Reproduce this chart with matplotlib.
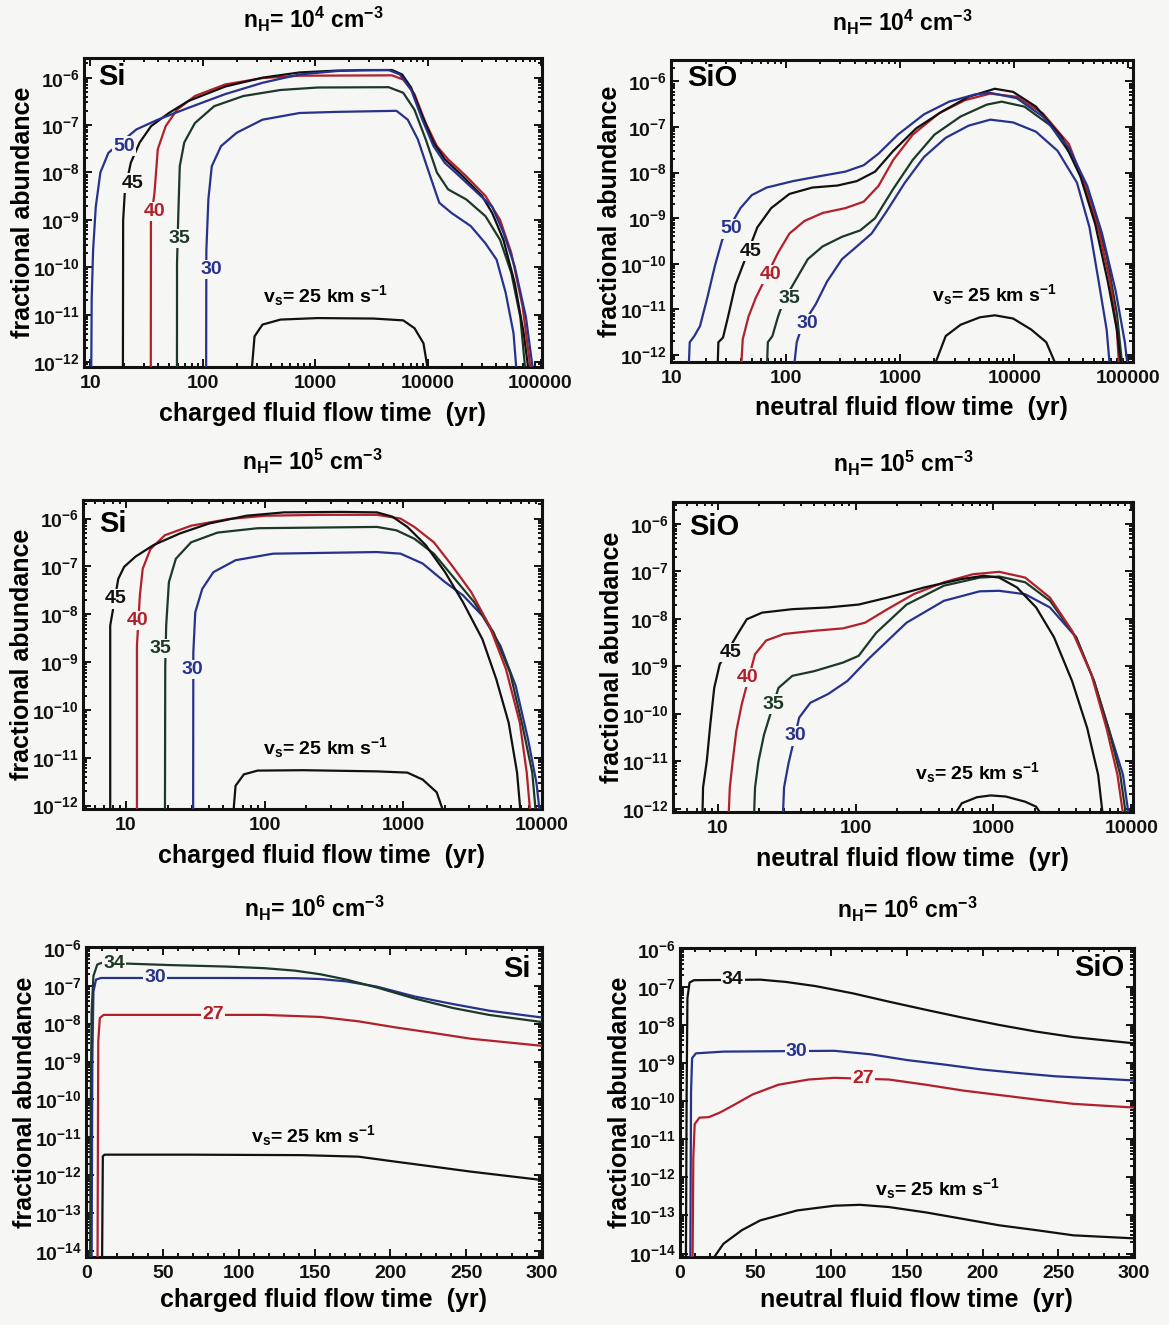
import numpy as np
import matplotlib
matplotlib.use("Agg")
import matplotlib.pyplot as plt
from matplotlib.ticker import LogLocator, MultipleLocator, FixedLocator, FuncFormatter, NullFormatter

plt.rcParams['font.family'] = ['Liberation Sans', 'DejaVu Sans']
plt.rcParams['font.weight'] = 'bold'
plt.rcParams['mathtext.fontset'] = 'custom'
plt.rcParams['mathtext.rm'] = 'Liberation Sans:bold'
plt.rcParams['mathtext.it'] = 'Liberation Sans:bold'
plt.rcParams['mathtext.bf'] = 'Liberation Sans:bold'
plt.rcParams['mathtext.sf'] = 'Liberation Sans:bold'
plt.rcParams['mathtext.default'] = 'rm'

# ---------------- data: Si, nH = 1e4 (charged fluid flow time) ----------------
si4_t50 = [10.2, 10.3, 10.6, 11.2, 12.3, 14.5, 25.7, 39.8, 74, 158, 339, 724, 1550, 2510, 4470, 5620, 7080, 8910, 11200, 14100, 19100, 27500, 37200, 46800, 58900, 74100, 87100]
si4_y50 = [5e-13, 2.1e-11, 2.3e-10, 1.9e-9, 1e-8, 2.6e-8, 8.1e-8, 1.3e-7, 2.3e-7, 4.5e-7, 7.8e-7, 1.17e-6, 1.38e-6, 1.45e-6, 1.45e-6, 1.17e-6, 5.6e-7, 1.3e-7, 3.6e-8, 1.6e-8, 8.3e-9, 3.7e-9, 1.9e-9, 5.4e-10, 1.05e-10, 9e-12, 5e-13]
si4_t45 = [19.5, 19.6, 20.3, 22.9, 27.5, 34.7, 50, 74, 158, 339, 724, 1550, 4790, 5890, 7080, 8910, 11200, 14100, 20400, 30200, 37200, 46800, 58900, 70800, 79400]
si4_y45 = [5e-13, 1e-9, 4e-9, 1.6e-8, 4.3e-8, 9.5e-8, 1.8e-7, 3.2e-7, 6.5e-7, 1e-6, 1.29e-6, 1.41e-6, 1.45e-6, 1.17e-6, 6.2e-7, 1.55e-7, 4.3e-8, 1.9e-8, 8.3e-9, 3.2e-9, 1.4e-9, 3.8e-10, 4.7e-11, 4.1e-12, 5e-13]
si4_t40 = [34.5, 34.6, 37.2, 39.8, 46.8, 58.9, 85, 158, 339, 724, 4790, 6030, 7590, 9550, 12000, 15100, 21900, 32400, 43700, 55000, 69200, 83200]
si4_y40 = [5e-13, 1e-9, 3.7e-9, 3.1e-8, 9.5e-8, 2.1e-7, 4.1e-7, 7.2e-7, 9.8e-7, 1.1e-6, 1.12e-6, 9.1e-7, 4.5e-7, 1.1e-7, 3.6e-8, 1.9e-8, 8.3e-9, 3.2e-9, 1e-9, 2e-10, 1.5e-11, 5e-13]
si4_t35 = [58.9, 59, 60.5, 62.4, 68.4, 85, 126, 229, 490, 1047, 4470, 6030, 7590, 9550, 12000, 15100, 21900, 32400, 43700, 55000, 66100, 74100]
si4_y35 = [5e-13, 1.2e-10, 1.2e-9, 1.35e-8, 4.3e-8, 1.1e-7, 2.5e-7, 4.1e-7, 5.5e-7, 6.2e-7, 6.3e-7, 4.8e-7, 2.1e-7, 5e-8, 1e-8, 4.4e-9, 2.7e-9, 1.2e-9, 3.8e-10, 7.6e-11, 9e-12, 5e-13]
si4_t30 = [107, 107.5, 112, 120, 145, 200, 339, 724, 1550, 5250, 6610, 8130, 10200, 12600, 16200, 24000, 32400, 40700, 49000, 57500, 61700]
si4_y30 = [5e-13, 2.3e-10, 2.7e-9, 1.35e-8, 3.6e-8, 6.9e-8, 1.3e-7, 1.8e-7, 1.9e-7, 2e-7, 1.3e-7, 5e-8, 1e-8, 2.3e-9, 1.4e-9, 7.4e-10, 3.2e-10, 1.45e-10, 2.9e-11, 4.1e-12, 5e-13]
si4_t25 = [269, 288, 339, 490, 1047, 3310, 6030, 7590, 9120, 10200]
si4_y25 = [5e-13, 3.5e-12, 6.2e-12, 7.9e-12, 8.5e-12, 8.3e-12, 7.6e-12, 5.2e-12, 2.5e-12, 5e-13]

# ---------------- data: SiO, nH = 1e4 (neutral fluid flow time) ----------------
sio4_t50 = [14.0, 14.3, 15.7, 17.6, 20.4, 23.8, 27.5, 39.8, 50, 67.6, 115, 195, 331, 479, 646, 955, 1620, 2690, 4570, 6170, 10500, 17800, 30200, 43700, 58900, 77600, 93300, 99300]
sio4_y50 = [5e-13, 1.9e-12, 2.6e-12, 4.3e-12, 1.8e-11, 9.1e-11, 3.3e-10, 1.66e-9, 3.2e-9, 4.7e-9, 6.5e-9, 8.3e-9, 1.05e-8, 1.45e-8, 2.6e-8, 6.8e-8, 1.9e-7, 3.6e-7, 5.2e-7, 5.6e-7, 4.3e-7, 1.7e-7, 3.5e-8, 5.1e-9, 4.6e-10, 2.5e-11, 1.9e-12, 5e-13]
sio4_t45 = [25.1, 25.5, 28, 31, 36, 56, 74, 107, 170, 282, 417, 603, 871, 1380, 2340, 3980, 6760, 9770, 15500, 26300, 38000, 51300, 66100, 79400, 87100]
sio4_y45 = [5e-13, 1.9e-12, 2.4e-12, 6.9e-12, 3.5e-11, 6.3e-10, 1.66e-9, 3.4e-9, 4.7e-9, 5.2e-9, 6.5e-9, 1.05e-8, 3e-8, 9.3e-8, 2.2e-7, 4.6e-7, 6.9e-7, 5.9e-7, 2.8e-7, 5.8e-8, 8.3e-9, 7.4e-10, 4.1e-11, 3.6e-12, 5e-13]
sio4_t40 = [40.3, 41.7, 46.8, 54.3, 85, 107, 145, 209, 331, 479, 646, 871, 1290, 2190, 3720, 6170, 10500, 17800, 30200, 40700, 55000, 69200, 79400, 83200]
sio4_y40 = [5e-13, 2.2e-12, 6.9e-12, 1.8e-11, 1.74e-10, 4.6e-10, 8.7e-10, 1.3e-9, 1.66e-9, 2.3e-9, 5.1e-9, 1.9e-8, 6.8e-8, 2e-7, 3.9e-7, 5.4e-7, 4.6e-7, 2e-7, 4.2e-8, 6e-9, 5.4e-10, 4.1e-11, 3.6e-12, 5e-13]
sio4_t35 = [68, 69.2, 75.9, 85, 95.5, 124, 155, 209, 309, 447, 603, 871, 1290, 2000, 3390, 5750, 7760, 12300, 20900, 32400, 47900, 64600, 79400, 89100]
sio4_y35 = [5e-13, 1.9e-12, 2.6e-12, 6.9e-12, 1.55e-11, 4.8e-11, 1.26e-10, 2.4e-10, 3.9e-10, 5.4e-10, 1e-9, 4.4e-9, 1.9e-8, 6.8e-8, 1.7e-7, 3.1e-7, 3.6e-7, 2.8e-7, 1.07e-7, 2.2e-8, 2.3e-9, 1.48e-10, 8.1e-12, 5e-13]
sio4_t30 = [117, 124, 138, 182, 229, 309, 417, 562, 759, 1100, 1620, 2510, 3980, 6170, 9770, 15500, 24000, 35500, 45700, 55000, 64600, 69200]
sio4_y30 = [5e-13, 1.9e-12, 4.3e-12, 1.3e-11, 4.1e-11, 1.26e-10, 2.4e-10, 4.6e-10, 1.4e-9, 6e-9, 2.2e-8, 5.8e-8, 1.07e-7, 1.45e-7, 1.26e-7, 7.9e-8, 3e-8, 6e-9, 6.3e-10, 4.1e-11, 3.6e-12, 5e-13]
sio4_t25 = [1950, 2510, 3390, 5010, 6760, 9770, 14100, 19100, 24000]
sio4_y25 = [5e-13, 2.6e-12, 4.6e-12, 6.7e-12, 7.4e-12, 6.3e-12, 3.6e-12, 1.9e-12, 5e-13]

# ---------------- data: Si, nH = 1e5 ----------------
si5_t45 = [7.7, 7.7, 8.8, 9.7, 11.7, 15.8, 24.5, 39.8, 74, 138, 355, 646, 832, 1070, 1450, 2000, 2690, 3720, 4680, 5750, 6610, 7080]
si5_y45 = [5e-13, 5.8e-9, 5.5e-8, 9.8e-8, 1.6e-7, 2.8e-7, 4.9e-7, 7.9e-7, 1.15e-6, 1.35e-6, 1.38e-6, 1.35e-6, 1.1e-6, 6.7e-7, 2.8e-7, 7.6e-8, 1.8e-8, 3e-9, 4.4e-10, 5.4e-11, 4.9e-12, 5e-13]
si5_t40 = [12.0, 12.0, 12.6, 13.2, 15, 19.1, 29.5, 55, 102, 257, 646, 955, 1200, 1660, 2240, 3090, 4170, 5500, 6920, 7760, 8320]
si5_y40 = [5e-13, 2.2e-9, 2.5e-8, 8.9e-8, 2.3e-7, 4.5e-7, 7.1e-7, 9.8e-7, 1.15e-6, 1.2e-6, 1.2e-6, 1e-6, 6.7e-7, 3.2e-7, 1.05e-7, 2.9e-8, 5.8e-9, 7.1e-10, 5.4e-11, 4.9e-12, 5e-13]
si5_t35 = [19.1, 19.2, 19.5, 20.4, 22.9, 29.5, 45.7, 89, 646, 891, 1200, 1660, 2240, 3240, 4470, 5890, 7240, 8510, 9120]
si5_y35 = [5e-13, 8.3e-10, 5.8e-9, 4.7e-8, 1.45e-7, 3.2e-7, 5.1e-7, 6.3e-7, 6.7e-7, 5.7e-7, 3.8e-7, 1.85e-7, 6.5e-8, 1.8e-8, 4.2e-9, 6e-10, 4.6e-11, 4.9e-12, 5e-13]
si5_t30 = [30.5, 30.6, 31.6, 35.5, 42.7, 61.7, 115, 646, 955, 1380, 2000, 2690, 3720, 5010, 6460, 7940, 9120, 9770]
si5_y30 = [5e-13, 1.6e-9, 1.1e-8, 3.4e-8, 7.6e-8, 1.35e-7, 1.85e-7, 2e-7, 1.85e-7, 1.15e-7, 4.7e-8, 2.5e-8, 9.3e-9, 2.2e-9, 3.2e-10, 2.4e-11, 3e-12, 5e-13]
si5_t25 = [58.9, 61.7, 70.8, 89, 191, 646, 1070, 1380, 1740, 2040]
si5_y25 = [5e-13, 2.6e-12, 4.5e-12, 5.4e-12, 5.5e-12, 5.2e-12, 4.9e-12, 3.5e-12, 1.9e-12, 5e-13]

# ---------------- data: SiO, nH = 1e5 ----------------
sio5_t45 = [7.7, 7.8, 8.3, 8.8, 9.4, 10.3, 14.1, 16.2, 20.9, 34.7, 63, 105, 170, 316, 589, 851, 1100, 1480, 2040, 2750, 3720, 4790, 5750, 6310]
sio5_y45 = [5e-13, 2.8e-12, 1e-11, 5.9e-11, 3.5e-10, 1.1e-9, 5.1e-9, 9.8e-9, 1.35e-8, 1.6e-8, 1.74e-8, 2e-8, 2.8e-8, 4.6e-8, 6.9e-8, 8.1e-8, 7.4e-8, 4.6e-8, 1.74e-8, 4.1e-9, 4.9e-10, 5e-11, 5.2e-12, 5e-13]
sio5_t40 = [11.9, 12.2, 12.8, 13.6, 14.9, 18.6, 22.4, 30.2, 50, 81, 117, 170, 263, 437, 708, 1100, 1700, 2570, 3720, 5130, 6610, 7940, 8910]
sio5_y40 = [5e-13, 2.8e-12, 1e-11, 4.3e-11, 1.6e-10, 1.8e-9, 3.5e-9, 4.8e-9, 5.6e-9, 6.3e-9, 8.3e-9, 1.6e-8, 3.3e-8, 5.9e-8, 8.7e-8, 9.8e-8, 7.4e-8, 2.8e-8, 5.6e-9, 6.8e-10, 5e-11, 5.2e-12, 5e-13]
sio5_t35 = [18.2, 18.6, 19.7, 21.6, 27.5, 34.7, 50, 81, 105, 141, 234, 437, 794, 1100, 1700, 2570, 3980, 5370, 6920, 8320, 9330]
sio5_y35 = [5e-13, 2.8e-12, 1e-11, 3.6e-11, 3.5e-10, 6.3e-10, 7.9e-10, 1.2e-9, 1.66e-9, 5.1e-9, 2e-8, 5e-8, 7.4e-8, 7.8e-8, 5.9e-8, 2.4e-8, 4.1e-9, 4.9e-10, 4.3e-11, 5.2e-12, 5e-13]
sio5_t30 = [29.5, 30.2, 32.4, 38.9, 46.8, 63, 87, 126, 234, 437, 794, 1100, 1700, 2570, 3980, 5370, 7080, 8710, 9770]
sio5_y30 = [5e-13, 2.8e-12, 8.5e-12, 8.3e-11, 1.7e-10, 2.6e-10, 4.9e-10, 1.5e-9, 8.3e-9, 2.4e-8, 3.8e-8, 3.9e-8, 3.3e-8, 1.74e-8, 4.1e-9, 4.9e-10, 3.6e-11, 5.2e-12, 5e-13]
sio5_t25 = [479, 589, 759, 955, 1230, 1700, 2040, 2450]
sio5_y25 = [5e-13, 1.3e-12, 1.74e-12, 1.9e-12, 1.8e-12, 1.4e-12, 1.1e-12, 5e-13]

# ---------------- data: Si, nH = 1e6 ----------------
si6_t34 = [2.0, 2.5, 3.0, 4.2, 6.7, 9.5, 29, 55, 92, 117, 137, 154, 171, 191, 216, 241, 265, 300]
si6_y34 = [5e-15, 1.5e-10, 2e-8, 1.8e-7, 3.6e-7, 4e-7, 3.8e-7, 3.5e-7, 3.2e-7, 2.9e-7, 2.5e-7, 2.0e-7, 1.45e-7, 9e-8, 4.6e-8, 2.6e-8, 1.7e-8, 1.1e-8]
si6_t30 = [3.0, 3.5, 4.2, 5.9, 9.2, 92, 137, 154, 171, 191, 216, 241, 265, 300]
si6_y30 = [5e-15, 1.3e-9, 7e-8, 1.45e-7, 1.6e-7, 1.6e-7, 1.58e-7, 1.5e-7, 1.3e-7, 9.5e-8, 5.2e-8, 3.3e-8, 2.2e-8, 1.45e-8]
si6_t27 = [6.9, 7.2, 7.4, 8.4, 10.9, 117, 154, 179, 203, 228, 253, 300]
si6_y27 = [5e-15, 2.2e-11, 3.5e-9, 1.4e-8, 1.7e-8, 1.7e-8, 1.5e-8, 1.15e-8, 8e-9, 5.7e-9, 4e-9, 2.6e-9]
si6_t25 = [9.9, 10.4, 11.6, 67, 142, 179, 203, 228, 253, 300]
si6_y25 = [5e-15, 3.2e-12, 3.5e-12, 3.5e-12, 3.4e-12, 3.1e-12, 2.3e-12, 1.7e-12, 1.25e-12, 7.5e-13]

# ---------------- data: SiO, nH = 1e6 ----------------
sio6_t34 = [3.9, 4.4, 4.9, 6.3, 9.2, 53, 70, 89.5, 114, 138, 162.5, 187, 211, 235.5, 260, 300]
sio6_y34 = [5e-15, 1.8e-10, 5e-8, 1.3e-7, 1.5e-7, 1.55e-7, 1.35e-7, 1.05e-7, 6.8e-8, 4.1e-8, 2.5e-8, 1.55e-8, 1e-8, 6.7e-9, 4.8e-9, 3.3e-9]
sio6_t30 = [6.8, 7.3, 8.0, 10.5, 28.7, 102, 126, 150, 175, 199, 223, 248, 300]
sio6_y30 = [5e-15, 1.8e-10, 1.35e-9, 1.8e-9, 2e-9, 2.1e-9, 1.7e-9, 1.2e-9, 9.1e-10, 6.8e-10, 5.5e-10, 4.5e-10, 3.5e-10]
sio6_t27 = [8.3, 8.8, 9.7, 12.9, 19, 26.3, 36, 48, 65, 85, 102, 138, 162.5, 187, 211, 235.5, 260, 300]
sio6_y27 = [5e-15, 3.3e-12, 2.5e-11, 3.7e-11, 3.8e-11, 5e-11, 8.1e-11, 1.5e-10, 2.7e-10, 3.7e-10, 4.1e-10, 3.7e-10, 2.7e-10, 1.9e-10, 1.45e-10, 1.1e-10, 8.5e-11, 6.8e-11]
sio6_t25 = [19, 28.7, 40.9, 53, 77.4, 102, 119, 138, 162.5, 187, 211, 235.5, 260, 300]
sio6_y25 = [5e-15, 1.8e-14, 4.1e-14, 7.4e-14, 1.35e-13, 1.8e-13, 1.9e-13, 1.66e-13, 1.2e-13, 8.1e-14, 5.5e-14, 4.1e-14, 3e-14, 2.5e-14]

# tick values
time_ticks_1e4 = [10, 100, 1000, 10000, 100000]
time_ticks_1e5 = [10, 100, 1000, 10000]
abund_ticks_a = [1e-12, 1e-11, 1e-10, 1e-9, 1e-8, 1e-7, 1e-6]
abund_ticks_b = [1e-14, 1e-13, 1e-12, 1e-11, 1e-10, 1e-9, 1e-8, 1e-7, 1e-6]

titles = [r'$n_H$= 10$^4$ cm$^{-3}$', r'$n_H$= 10$^5$ cm$^{-3}$', r'$n_H$= 10$^6$ cm$^{-3}$']
xlabels = ['charged fluid flow time  (yr)', 'neutral fluid flow time  (yr)']
ylabel = 'fractional abundance'
vs_label = r'$v_s$= 25 km s$^{-1}$'

# ---------------- style ----------------
BG = '#f6f6f4'
BLUE = '#27328c'
RED = '#b2202a'
GREEN = '#1c3826'
BLACK = '#111111'
W, H = 1169, 1325

fig = plt.figure(figsize=(W / 100, H / 100), dpi=100, facecolor=BG)


def make_ax(l, t, r, b):
    return fig.add_axes([l / W, 1 - b / H, (r - l) / W, (b - t) / H], facecolor=BG)


def minor_log(lo, hi):
    vals = []
    for e in range(int(np.floor(np.log10(lo))), int(np.ceil(np.log10(hi))) + 1):
        for m in range(2, 10):
            v = m * 10.0 ** e
            if lo <= v <= hi:
                vals.append(v)
    return vals


def style_log_x(ax, xlim, ticks):
    ax.set_xscale('log')
    ax.set_xlim(*xlim)
    ax.xaxis.set_major_locator(FixedLocator(ticks))
    ax.xaxis.set_minor_locator(FixedLocator(minor_log(*xlim)))
    ax.xaxis.set_major_formatter(FuncFormatter(lambda v, p: '%d' % round(v)))
    ax.xaxis.set_minor_formatter(NullFormatter())


def style_lin_x(ax, xlim):
    ax.set_xlim(*xlim)
    ax.xaxis.set_major_locator(FixedLocator([0, 50, 100, 150, 200, 250, 300]))
    ax.xaxis.set_minor_locator(MultipleLocator(10))
    ax.xaxis.set_major_formatter(FuncFormatter(lambda v, p: '%d' % round(v)))
    ax.xaxis.set_minor_formatter(NullFormatter())


def common(ax, ylim, yticks, title, xlabel, species, sp_pos, sp_ha, xl_y=-0.152):
    ax.set_yscale('log')
    ax.set_ylim(*ylim)
    ax.yaxis.set_major_locator(FixedLocator(yticks))
    ax.yaxis.set_minor_locator(FixedLocator(minor_log(*ylim)))
    ax.yaxis.set_major_formatter(FuncFormatter(lambda v, p: r'$10^{%d}$' % round(np.log10(v))))
    ax.yaxis.set_minor_formatter(NullFormatter())
    ax.tick_params(which='both', direction='in', top=True, right=True, width=1.4, colors=BLACK)
    ax.tick_params(which='major', length=6, labelsize=14)
    ax.tick_params(which='minor', length=3.2)
    ax.tick_params(axis='x', which='major', pad=6)
    ax.tick_params(axis='y', which='major', pad=3)
    for s in ax.spines.values():
        s.set_linewidth(2.2)
        s.set_color(BLACK)
    ax.text(0.5, 1.125, title, transform=ax.transAxes, ha='center', va='center', fontsize=16.5)
    ax.text(0.52, xl_y, xlabel, transform=ax.transAxes, ha='center', va='center', fontsize=18)
    ax.text(-0.133, 0.5, ylabel, transform=ax.transAxes, ha='center', va='center', rotation=90, fontsize=18)
    ax.text(sp_pos[0], sp_pos[1], species, transform=ax.transAxes, ha=sp_ha, va='center', fontsize=21)


def curve(ax, t, y, color):
    ax.plot(t, y, color=color, lw=1.6, solid_joinstyle='round', solid_capstyle='round', zorder=3)


def tag(ax, x, y, s, color, size=14):
    ax.text(x, y, s, color=color, fontsize=size, ha='center', va='center', zorder=5,
            bbox=dict(boxstyle='square,pad=0.06', fc=BG, ec='none'))


# ---- top left: Si, 1e4 ----
ax = make_ax(84, 58, 542, 367)
style_log_x(ax, (8.8, 1.03e5), time_ticks_1e4)
common(ax, (7.9e-13, 2.6e-6), abund_ticks_a, titles[0], xlabels[0], 'Si', (0.03, 0.94), 'left')
curve(ax, si4_t25, si4_y25, BLACK)
curve(ax, si4_t30, si4_y30, BLUE)
curve(ax, si4_t35, si4_y35, GREEN)
curve(ax, si4_t40, si4_y40, RED)
curve(ax, si4_t45, si4_y45, BLACK)
curve(ax, si4_t50, si4_y50, BLUE)
tag(ax, 20.0, 3.6e-8, '50', BLUE)
tag(ax, 23.6, 6.0e-9, '45', BLACK)
tag(ax, 37.5, 1.5e-9, '40', RED)
tag(ax, 62, 4.0e-10, '35', GREEN)
tag(ax, 118, 9.0e-11, '30', BLUE)
ax.text(1230, 2.6e-11, vs_label, ha='center', va='center', fontsize=14)

# ---- top right: SiO, 1e4 ----
ax = make_ax(671, 60, 1133, 362)
style_log_x(ax, (9.8, 1.1e5), time_ticks_1e4)
common(ax, (7e-13, 2.95e-6), abund_ticks_a, titles[0], xlabels[1], 'SiO', (0.035, 0.94), 'left')
curve(ax, sio4_t25, sio4_y25, BLACK)
curve(ax, sio4_t30, sio4_y30, BLUE)
curve(ax, sio4_t35, sio4_y35, GREEN)
curve(ax, sio4_t40, sio4_y40, RED)
curve(ax, sio4_t45, sio4_y45, BLACK)
curve(ax, sio4_t50, sio4_y50, BLUE)
tag(ax, 33.1, 5.8e-10, '50', BLUE)
tag(ax, 48.5, 1.9e-10, '45', BLACK)
tag(ax, 73.5, 5.8e-11, '40', RED)
tag(ax, 107, 1.7e-11, '35', GREEN)
tag(ax, 155, 4.8e-12, '30', BLUE)
ax.text(6760, 2.1e-11, vs_label, ha='center', va='center', fontsize=14)

# ---- middle left: Si, 1e5 ----
ax = make_ax(83, 500, 542, 809)
style_log_x(ax, (4.9, 1.0e4), time_ticks_1e5)
common(ax, (8.5e-13, 2.45e-6), abund_ticks_a, titles[1], xlabels[0], 'Si', (0.035, 0.922), 'left')
curve(ax, si5_t25, si5_y25, BLACK)
curve(ax, si5_t30, si5_y30, BLUE)
curve(ax, si5_t35, si5_y35, GREEN)
curve(ax, si5_t40, si5_y40, RED)
curve(ax, si5_t45, si5_y45, BLACK)
tag(ax, 8.4, 2.1e-8, '45', BLACK)
tag(ax, 12.1, 7.4e-9, '40', RED)
tag(ax, 17.8, 1.9e-9, '35', GREEN)
tag(ax, 30.0, 7.1e-10, '30', BLUE)
ax.text(275, 1.6e-11, vs_label, ha='center', va='center', fontsize=14)

# ---- middle right: SiO, 1e5 ----
ax = make_ax(673, 502, 1133, 812)
style_log_x(ax, (4.72, 1.03e4), time_ticks_1e5)
common(ax, (8.5e-13, 2.9e-6), abund_ticks_a, titles[1], xlabels[1], 'SiO', (0.035, 0.92), 'left')
curve(ax, sio5_t25, sio5_y25, BLACK)
curve(ax, sio5_t30, sio5_y30, BLUE)
curve(ax, sio5_t35, sio5_y35, GREEN)
curve(ax, sio5_t40, sio5_y40, RED)
curve(ax, sio5_t45, sio5_y45, BLACK)
tag(ax, 12.4, 1.95e-9, '45', BLACK)
tag(ax, 16.4, 5.8e-10, '40', RED)
tag(ax, 25.1, 1.6e-10, '35', GREEN)
tag(ax, 36.3, 3.4e-11, '30', BLUE)
ax.text(759, 5.8e-12, vs_label, ha='center', va='center', fontsize=14)

# ---- bottom left: Si, 1e6 ----
ax = make_ax(86, 947, 542, 1257)
style_lin_x(ax, (-0.7, 300))
common(ax, (7e-15, 1.05e-6), abund_ticks_b, titles[2], xlabels[0], 'Si', (0.975, 0.93), 'right', xl_y=-0.14)
curve(ax, si6_t25, si6_y25, BLACK)
curve(ax, si6_t27, si6_y27, RED)
curve(ax, si6_t30, si6_y30, BLUE)
curve(ax, si6_t34, si6_y34, GREEN)
tag(ax, 18, 3.9e-7, '34', GREEN)
tag(ax, 45, 1.6e-7, '30', BLUE)
tag(ax, 83, 1.7e-8, '27', RED)
ax.text(149, 1.1e-11, vs_label, ha='center', va='center', fontsize=14)

# ---- bottom right: SiO, 1e6 ----
ax = make_ax(680, 948, 1134, 1257)
style_lin_x(ax, (0, 300))
common(ax, (8.1e-15, 1.05e-6), abund_ticks_b, titles[2], xlabels[1], 'SiO', (0.978, 0.935), 'right', xl_y=-0.14)
curve(ax, sio6_t25, sio6_y25, BLACK)
curve(ax, sio6_t27, sio6_y27, RED)
curve(ax, sio6_t30, sio6_y30, BLUE)
curve(ax, sio6_t34, sio6_y34, BLACK)
tag(ax, 34.8, 1.55e-7, '34', BLACK)
tag(ax, 77, 2.05e-9, '30', BLUE)
tag(ax, 121, 4e-10, '27', RED)
ax.text(170, 5e-13, vs_label, ha='center', va='center', fontsize=14)

fig.savefig('out.png', dpi=100, facecolor=BG)
